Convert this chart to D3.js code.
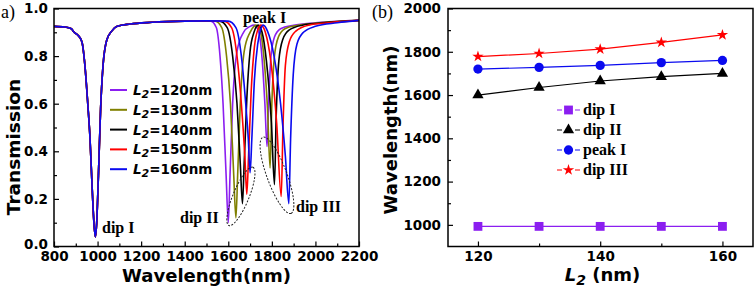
<!DOCTYPE html>
<html><head><meta charset="utf-8">
<script src="https://cdn.jsdelivr.net/npm/d3@7"></script>
<style>body{margin:0;background:#fff}svg{display:block}</style>
</head><body>
<svg id="c" width="756" height="292"></svg>
<script>
// ---------- data: panel (a) transmission spectra ----------
const sharedStart = [[800,0.925],[850,0.922],[880,0.915],[890,0.902],[910,0.888],[928,0.86],[942,0.76],[955,0.6],[965,0.46],[975,0.25],[984,0.09],[990,0.04],[996,0.1],[1004,0.3],[1014,0.58],[1025,0.76],[1043,0.87],[1065,0.905],[1090,0.925],[1150,0.935],[1250,0.942],[1400,0.947],[1500,0.948]];
const spec120 = [[1520,0.947],[1545,0.92],[1562,0.8],[1576,0.6],[1590,0.3],[1600,0.10],[1608,0.3],[1620,0.6],[1640,0.82],[1670,0.9],[1700,0.925],[1720,0.93],[1740,0.9],[1756,0.78],[1768,0.6],[1778,0.42],[1786,0.62],[1796,0.8],[1812,0.88],[1840,0.915],[1900,0.93],[2000,0.94],[2200,0.95]];
const spec130 = [[1540,0.947],[1570,0.92],[1592,0.8],[1610,0.6],[1625,0.3],[1635,0.12],[1643,0.3],[1655,0.6],[1673,0.82],[1700,0.9],[1718,0.925],[1728,0.93],[1748,0.9],[1765,0.78],[1780,0.58],[1792,0.33],[1800,0.6],[1812,0.8],[1830,0.88],[1860,0.915],[1920,0.93],[2020,0.94],[2200,0.95]];
const spec140 = [[1560,0.947],[1595,0.92],[1620,0.8],[1640,0.6],[1655,0.35],[1665,0.18],[1673,0.35],[1685,0.62],[1700,0.82],[1718,0.9],[1730,0.925],[1737,0.93],[1755,0.9],[1775,0.78],[1798,0.52],[1812,0.26],[1820,0.55],[1832,0.78],[1850,0.87],[1880,0.91],[1940,0.93],[2040,0.94],[2200,0.95]];
const spec150 = [[1580,0.947],[1615,0.92],[1640,0.8],[1660,0.6],[1676,0.38],[1685,0.22],[1693,0.38],[1705,0.65],[1720,0.84],[1735,0.91],[1750,0.93],[1770,0.9],[1795,0.78],[1822,0.52],[1843,0.21],[1851,0.5],[1862,0.76],[1880,0.86],[1910,0.905],[1970,0.93],[2060,0.94],[2200,0.95]];
const spec160 = [[1600,0.947],[1635,0.92],[1660,0.8],[1680,0.6],[1692,0.45],[1700,0.31],[1708,0.45],[1720,0.7],[1735,0.85],[1748,0.91],[1760,0.93],[1780,0.905],[1810,0.8],[1840,0.6],[1862,0.38],[1878,0.18],[1886,0.45],[1898,0.72],[1915,0.85],[1945,0.9],[2000,0.925],[2100,0.94],[2200,0.95]];
const specL2 = [120,130,140,150,160];
const specColors = ["#8B1EF0","#808000","#000000","#FF0000","#0A0AEF"];
const leftXTicks = [800,1000,1200,1400,1600,1800,2000,2200];
const leftXMinor = [900,1100,1300,1500,1700,1900,2100];
const leftYTicks = [0,0.2,0.4,0.6,0.8,1.0];
const leftYMinor = [0.1,0.3,0.5,0.7,0.9];
// annotation anchors (data units)
const ellipseDipII = [[1603,0.088],[1713,0.333]];
const ellipseDipIII = [[1759,0.459],[1888,0.139]];

// ---------- data: panel (b) ----------
const L2 = [120,130,140,150,160];
const dipI = [993,993,993,993,993];
const dipII = [1600,1635,1665,1685,1700];
const peakI = [1720,1728,1737,1750,1760];
const dipIII = [1778,1792,1812,1843,1878];
const rightXTicks = [120,140,160];
const rightXMinor = [130,150];
const rightYTicks = [1000,1200,1400,1600,1800,2000];
const rightYMinor = [1100,1300,1500,1700,1900];

const svg = d3.select("#c");
const tickFont = "'DejaVu Sans', sans-serif";
const serif = "'Liberation Serif','Times New Roman',serif";

function styleAxis(g){
  g.selectAll("text").attr("font-family",tickFont).attr("font-weight","bold").attr("font-size","13.5px").attr("fill","#000");
  g.selectAll("line").attr("stroke","#000").attr("stroke-width",1.2);
  g.select(".domain").remove();
}

// ===== Panel (a) =====
const ax0=54, ax1=359, ay0=8.5, ay1=246.5;
const xA = d3.scaleLinear().domain([800,2200]).range([ax0,ax1]);
const yA = d3.scaleLinear().domain([0,1]).range([ay1,ay0]);
const gA = svg.append("g");

const line = d3.line().x(d=>xA(d[0])).y(d=>yA(d[1])).curve(d3.curveMonotoneX);
const specs = [spec120,spec130,spec140,spec150,spec160];
specs.forEach((s,i)=>{
  const pts = sharedStart.filter(p=>p[0]<s[0][0]).concat(s);
  gA.append("path").attr("d",line(pts)).attr("fill","none")
    .attr("stroke",specColors[i]).attr("stroke-width",1.6).attr("stroke-linejoin","round");
});

gA.append("g").attr("transform",`translate(0,${ay1})`)
  .call(d3.axisBottom(xA).tickValues(leftXTicks).tickSize(-5).tickPadding(5).tickFormat(d3.format("d"))).call(styleAxis);
gA.append("g").attr("transform",`translate(0,${ay1})`)
  .call(d3.axisBottom(xA).tickValues(leftXMinor).tickSize(-3).tickFormat("")).call(styleAxis);
const yAxA = gA.append("g").attr("transform",`translate(${ax0},0)`)
  .call(d3.axisLeft(yA).tickValues(leftYTicks).tickSize(-5).tickPadding(6).tickFormat(d3.format(".1f"))).call(styleAxis);
yAxA.selectAll(".tick text").filter(d=>d===0).attr("dy","0.12em");
gA.append("g").attr("transform",`translate(${ax0},0)`)
  .call(d3.axisLeft(yA).tickValues(leftYMinor).tickSize(-3).tickFormat("")).call(styleAxis);
gA.append("rect").attr("x",ax0).attr("y",ay0).attr("width",ax1-ax0).attr("height",ay1-ay0)
  .attr("fill","none").attr("stroke","#000").attr("stroke-width",1.5);

// legend (a)
specL2.forEach((v,i)=>{
  const yy = 90 + i*19.8;
  gA.append("line").attr("x1",110).attr("x2",127).attr("y1",yy).attr("y2",yy)
    .attr("stroke",specColors[i]).attr("stroke-width",2);
  const t = gA.append("text").attr("x",133).attr("y",yy+5)
    .attr("font-family",tickFont).attr("font-weight","bold").attr("font-size","13.5px");
  t.append("tspan").attr("font-style","italic").text("L");
  t.append("tspan").attr("font-style","italic").attr("font-size","11px").attr("dy",3).text("2");
  t.append("tspan").attr("dy",-3).text("="+v+"nm");
});

// annotations (a)
function ann(txt,x,y){
  gA.append("text").attr("x",x).attr("y",y).attr("font-family",serif).attr("font-weight","bold")
    .attr("font-size","16px").attr("fill","#000").text(txt);
}
ann("peak I",243,22.5);
ann("dip I",102,233);
ann("dip II",180,223);
ann("dip III",296,212);
function ellipse(ends,ry){
  const p1=[xA(ends[0][0]),yA(ends[0][1])], p2=[xA(ends[1][0]),yA(ends[1][1])];
  const cx=(p1[0]+p2[0])/2, cy=(p1[1]+p2[1])/2;
  const rx=Math.hypot(p2[0]-p1[0],p2[1]-p1[1])/2;
  const ang=Math.atan2(p2[1]-p1[1],p2[0]-p1[0])*180/Math.PI;
  gA.append("ellipse").attr("cx",0).attr("cy",0).attr("rx",rx).attr("ry",ry)
    .attr("transform",`translate(${cx},${cy}) rotate(${ang})`)
    .attr("fill","none").attr("stroke","#222").attr("stroke-width",1).attr("stroke-dasharray","2,1.5");
}
ellipse(ellipseDipII,8);
ellipse(ellipseDipIII,10);

// axis title (a)
gA.append("text").attr("x",(ax0+ax1)/2).attr("y",282).attr("text-anchor","middle")
  .attr("font-family",tickFont).attr("font-weight","bold").attr("font-size","18px").text("Wavelength(nm)");
gA.append("text").attr("transform",`translate(20,147) rotate(-90)`).attr("text-anchor","middle")
  .attr("font-family",tickFont).attr("font-weight","bold").attr("font-size","18.5px").text("Transmission");
svg.append("text").attr("x",1).attr("y",18).attr("font-family",serif).attr("font-size","18px").text("a)");

// ===== Panel (b) =====
const bx0=448, bx1=753, by0=8.5, by1=246.5;
const xB = d3.scaleLinear().domain([115.1,165]).range([bx0,bx1]);
const yB = d3.scaleLinear().domain([900,2000]).range([by1,by0]);
const gB = svg.append("g");

gB.append("g").attr("transform",`translate(0,${by1})`)
  .call(d3.axisBottom(xB).tickValues(rightXTicks).tickSize(-5).tickPadding(5).tickFormat(d3.format("d"))).call(styleAxis);
gB.append("g").attr("transform",`translate(0,${by1})`)
  .call(d3.axisBottom(xB).tickValues(rightXMinor).tickSize(-3).tickFormat("")).call(styleAxis);
gB.append("g").attr("transform",`translate(${bx0},0)`)
  .call(d3.axisLeft(yB).tickValues(rightYTicks).tickSize(-5).tickPadding(7).tickFormat(d3.format("d"))).call(styleAxis);
gB.append("g").attr("transform",`translate(${bx0},0)`)
  .call(d3.axisLeft(yB).tickValues(rightYMinor).tickSize(-3).tickFormat("")).call(styleAxis);

const seriesB = [
  {name:"dip I", vals:dipI, color:"#8B1EF0", sym:d3.symbolSquare, size:78},
  {name:"dip II", vals:dipII, color:"#000000", sym:d3.symbolTriangle, size:55},
  {name:"peak I", vals:peakI, color:"#0A0AEF", sym:d3.symbolCircle, size:68},
  {name:"dip III", vals:dipIII, color:"#FF0000", sym:d3.symbolStar, size:40}
];
const lineB = d3.line().x((d,i)=>xB(L2[i])).y(d=>yB(d));
seriesB.forEach(s=>{
  gB.append("path").attr("d",lineB(s.vals)).attr("fill","none").attr("stroke",s.color).attr("stroke-width",1.2);
  gB.selectAll(null).data(s.vals).enter().append("path")
    .attr("d",d3.symbol().type(s.sym).size(s.size))
    .attr("transform",(d,i)=>`translate(${xB(L2[i])},${yB(d)})`)
    .attr("fill",s.color);
});
gB.append("rect").attr("x",bx0).attr("y",by0).attr("width",bx1-bx0).attr("height",by1-by0)
  .attr("fill","none").attr("stroke","#000").attr("stroke-width",1.5);

// legend (b)
seriesB.forEach((s,i)=>{
  const yy = 110 + i*20;
  gB.append("line").attr("x1",557).attr("x2",580).attr("y1",yy).attr("y2",yy)
    .attr("stroke",s.color).attr("stroke-width",1.2).attr("stroke-dasharray","5,13");
  gB.append("path").attr("d",d3.symbol().type(s.sym).size(s.size)).attr("transform",`translate(568.5,${yy})`).attr("fill",s.color);
  gB.append("text").attr("x",583).attr("y",yy+5).attr("font-family",serif).attr("font-weight","bold")
    .attr("font-size","16px").text(s.name);
});

// axis titles (b)
const tb = gB.append("text").attr("x",(bx0+bx1)/2+2).attr("y",281).attr("text-anchor","middle")
  .attr("font-family",tickFont).attr("font-weight","bold").attr("font-size","18px");
tb.append("tspan").attr("font-style","italic").text("L");
tb.append("tspan").attr("font-style","italic").attr("font-size","14px").attr("dy",4).text("2");
tb.append("tspan").attr("dy",-4).text(" (nm)");
gB.append("text").attr("transform",`translate(397,130) rotate(-90)`).attr("text-anchor","middle")
  .attr("font-family",tickFont).attr("font-weight","bold").attr("font-size","18px").text("Wavelength(nm)");
svg.append("text").attr("x",372).attr("y",18).attr("font-family",serif).attr("font-size","18px").text("(b)");
</script>
</body></html>
